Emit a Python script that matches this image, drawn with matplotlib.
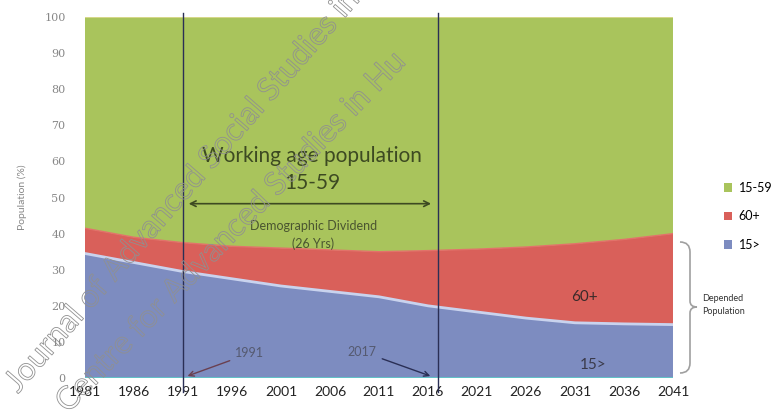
import matplotlib.pyplot as plt
import matplotlib.patheffects as pe
from matplotlib.path import Path
from matplotlib.patches import PathPatch
import numpy as np

plt.rcParams['font.family'] = ['Lato', 'DejaVu Sans']

# Census / projected years and share of population by age group (%)
years = [1981, 1986, 1991, 1996, 2001, 2006, 2011, 2016, 2021, 2026, 2031, 2036, 2041]
under15 = [34.5, 32.0, 29.5, 27.5, 25.5, 24.0, 22.5, 20.0, 18.3, 16.6, 15.3, 15.0, 14.8]
above60 = [7.0, 7.0, 8.0, 9.0, 10.5, 11.5, 12.5, 15.3, 17.4, 19.7, 21.9, 23.4, 25.2]
working = [100 - a - b for a, b in zip(under15, above60)]
yticks = [0, 10, 20, 30, 40, 50, 60, 70, 80, 90, 100]

green = '#a9c45c'
red = '#d9605a'
blue = '#7d8cc0'

W, H = 781, 417
fig = plt.figure(figsize=(W / 100, H / 100), dpi=100)
ax = fig.add_axes([0.1088, 0.0935, 0.7529, 0.8655])

ax.stackplot(years, under15, above60, working,
             colors=[blue, red, green], labels=['15>', '60+', '15-59'])
lower = np.array(under15)
ax.plot(years, lower, color='#c9d3ee', lw=2)
ax.plot(years, lower + np.array(above60), color='#e2726a', lw=1)
ax.axhline(0, color='#5fc8c8', lw=2, zorder=3)
ax.axhline(100, color='#d6d88a', lw=1.5, zorder=3)

ax.set_xlim(1981, 2041)
ax.set_ylim(0, 100)
ax.set_xticks(years)
ax.set_xticklabels([str(y) for y in years], fontsize=10, color='#222222')
ax.set_yticks(yticks)
ax.set_yticklabels([str(t) for t in yticks], fontsize=8, color='#888888',
                   family='DejaVu Serif')
ax.tick_params(length=0, pad=6)
ax.tick_params(axis='y', pad=14)
for s in ax.spines.values():
    s.set_visible(False)
ax.set_ylabel('Population (%)', fontsize=7.5, color='#888888', labelpad=12)

# marker lines for 1991 and 2017
for yr in [1991, 2017]:
    ax.plot([yr, yr], [-4, 101], color='#2a2f55', lw=1, clip_on=False, zorder=4)

ax.text(2004.2, 61.5, 'Working age population', fontsize=15, color='#3d4a22',
        ha='center', va='center')
ax.text(2004.2, 54, '15-59', fontsize=15, color='#3d4a22', ha='center', va='center')
ax.annotate('', xy=(2016.6, 48.3), xytext=(1991.3, 48.3),
            arrowprops=dict(arrowstyle='<->', color='#3d4a22', lw=1.2))
ax.text(2004.3, 42.2, 'Demographic Dividend', fontsize=9, color='#4a5530',
        ha='center', va='center')
ax.text(2004.3, 37.2, '(26 Yrs)', fontsize=9, color='#4a5530',
        ha='center', va='center')

ax.text(2032.0, 22.5, '60+', fontsize=11, color='#3a2a2a', ha='center', va='center')
ax.text(2032.8, 3.5, '15>', fontsize=11, color='#3a3a4a', ha='center', va='center')

ax.annotate('1991', xy=(1991.2, 0.3), xytext=(1997.8, 6.8), fontsize=9,
            color='#555a70', ha='center', va='center',
            arrowprops=dict(arrowstyle='->', color='#6a4050', lw=1))
ax.annotate('2017', xy=(2016.5, 0.3), xytext=(2009.3, 7.3), fontsize=9,
            color='#555a70', ha='center', va='center',
            arrowprops=dict(arrowstyle='->', color='#2a2f55', lw=1))

# legend
handles, labels = ax.get_legend_handles_labels()
fig.legend(handles[::-1], labels[::-1], loc='upper left',
           bbox_to_anchor=(0.912, 0.59), frameon=False, fontsize=9,
           handlelength=0.7, handleheight=0.7, labelspacing=1.3,
           handletextpad=0.5)


def px(x, y):
    # figure pixels (y from top) to figure fraction
    return (x / W, 1 - y / H)


# curly brace for dependent population
x0, xm, xt = 680, 690, 697
y0, ym, y1 = 242, 307, 373
codes = [Path.MOVETO, Path.CURVE3, Path.CURVE3,
         Path.LINETO, Path.CURVE3, Path.CURVE3,
         Path.CURVE3, Path.CURVE3,
         Path.LINETO, Path.CURVE3, Path.CURVE3]
verts = [px(x0, y0), px(xm, y0), px(xm, y0 + 10),
         px(xm, ym - 6), px(xm, ym), px(xt, ym),
         px(xm, ym), px(xm, ym + 6),
         px(xm, y1 - 10), px(xm, y1), px(x0, y1)]
fig.add_artist(PathPatch(Path(verts, codes), transform=fig.transFigure,
                         fill=False, edgecolor='#a0a0a0', lw=1.2))
fig.text(0.899, 0.268, 'Depended\nPopulation', fontsize=6.5, color='#333333',
         ha='left', va='center', linespacing=1.5)

# watermark
for txt, start, rot in [('Journal of Advanced Social Studies in Humanities', (18, 394), 49),
                        ('Centre for Advanced Studies in Hu', (68, 414), 46)]:
    fig.text(*px(*start), txt, fontsize=23, rotation=rot, rotation_mode='anchor',
             ha='left', va='baseline', color='none',
             path_effects=[pe.Stroke(linewidth=0.6, foreground='#909090')])

fig.savefig('out.png', dpi=100)
